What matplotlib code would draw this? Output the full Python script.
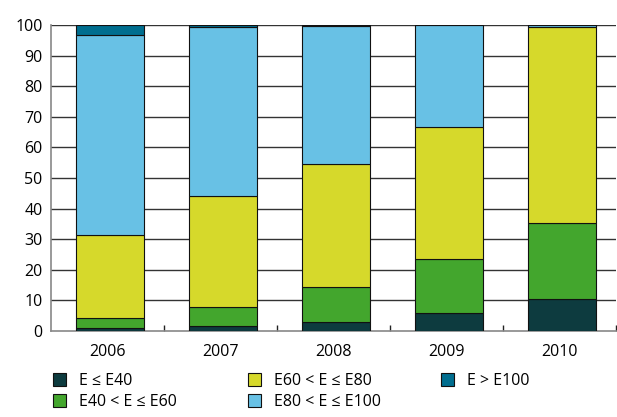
import matplotlib.pyplot as plt
from matplotlib.patches import Patch

plt.rcParams['font.family'] = ['Open Sans', 'DejaVu Sans']

years = ["2006", "2007", "2008", "2009", "2010"]
labels = ["E \u2264 E40", "E40 < E \u2264 E60", "E60 < E \u2264 E80",
          "E80 < E \u2264 E100", "E > E100"]
colors = ["#0d3b3f", "#43a62d", "#d6d92b", "#68c1e5", "#006e8f"]

e40 = [1.0, 1.6, 3.0, 6.0, 10.4]
e60 = [3.3, 6.1, 11.5, 17.4, 25.0]
e80 = [27.0, 36.5, 40.0, 43.2, 64.0]
e100 = [65.4, 55.2, 45.2, 33.4, 0.6]
above = [3.3, 0.6, 0.3, 0.0, 0.0]

series = [e40, e60, e80, e100, above]

fig = plt.figure(figsize=(6.17, 4.17), dpi=100)
ax = fig.add_axes([51 / 617, 1 - 331 / 417, 565 / 617, 306 / 417])

x = [i + 0.02 for i in range(len(years))]
bottom = [0.0] * len(years)
for vals, col in zip(series, colors):
    ax.bar(x, vals, bottom=bottom, width=0.6, color=col,
           edgecolor="#111111", linewidth=0.8, zorder=3)
    bottom = [b + v for b, v in zip(bottom, vals)]

ax.set_xlim(-0.5, 4.5)
ax.set_ylim(0, 100)
ax.set_yticks(range(0, 101, 10))
ax.set_xticks(range(len(years)))
ax.set_xticklabels(years)
ax.set_xticks([0.5, 1.5, 2.5, 3.5, 4.5], minor=True)
ax.tick_params(axis="x", which="major", length=0, pad=9, labelsize=11.5)
ax.tick_params(axis="x", which="minor", direction="in", length=4,
               color="#222222", width=1)
ax.tick_params(axis="y", length=0, pad=6, labelsize=11.5)

for v in range(10, 101, 10):
    ax.axhline(v, color="#333333", linewidth=1, zorder=1)

for side in ["top", "right"]:
    ax.spines[side].set_visible(False)
ax.spines["left"].set_color("#888888")
ax.spines["bottom"].set_color("#888888")
ax.spines["left"].set_linewidth(1.2)
ax.spines["bottom"].set_linewidth(1.2)

handles = [Patch(facecolor=c, edgecolor="#111111", linewidth=0.8)
           for c in colors]
groups = [(0, 2, 53), (2, 4, 248), (4, 5, 441)]
for start, end, xpos in groups:
    fig.legend(handles[start:end], labels[start:end],
               loc="upper left", bbox_to_anchor=(xpos / 617, 1 - 373 / 417),
               frameon=False, borderpad=0, borderaxespad=0,
               handlelength=0.8, handleheight=0.8, handletextpad=0.8,
               labelspacing=0.32, fontsize=11.5)

fig.savefig("out.png", dpi=100)
